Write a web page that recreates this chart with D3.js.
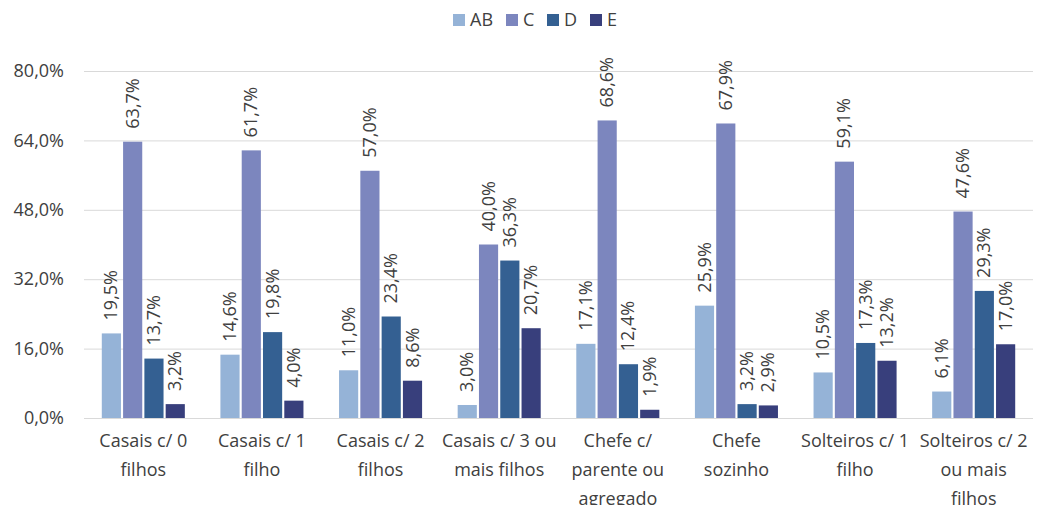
<!DOCTYPE html>
<html>
<head>
<meta charset="utf-8">
<script src="https://cdn.jsdelivr.net/npm/d3@7"></script>
<style>
  body { margin: 0; background: #fff; }
  text { font-family: "Open Sans", sans-serif; fill: #404040; }
</style>
</head>
<body>
<svg id="chart" width="1039" height="505"></svg>
<script>
// line breaks follow the reference's wrapping
const categories = [
  'Casais c/ 0\nfilhos',
  'Casais c/ 1\nfilho',
  'Casais c/ 2\nfilhos',
  'Casais c/ 3 ou\nmais filhos',
  'Chefe c/\nparente ou\nagregado',
  'Chefe\nsozinho',
  'Solteiros c/ 1\nfilho',
  'Solteiros c/ 2\nou mais\nfilhos'
];
const seriesNames = ['AB', 'C', 'D', 'E'];
const valuesAB = [19.5, 14.6, 11.0, 3.0, 17.1, 25.9, 10.5, 6.1];
const valuesC = [63.7, 61.7, 57.0, 40.0, 68.6, 67.9, 59.1, 47.6];
const valuesD = [13.7, 19.8, 23.4, 36.3, 12.4, 3.2, 17.3, 29.3];
const valuesE = [3.2, 4.0, 8.6, 20.7, 1.9, 2.9, 13.2, 17.0];
const yTicks = [0, 16, 32, 48, 64, 80];

const seriesValues = [valuesAB, valuesC, valuesD, valuesE];
const colors = ['#95b3d7', '#7c86be', '#346092', '#383f7c'];

const svg = d3.select('#chart');
const margin = { top: 71, right: 6, bottom: 87, left: 84 };
const width = 1039, height = 505;
const innerWidth = width - margin.left - margin.right;
const innerHeight = height - margin.top - margin.bottom;
const fontSize = '18px';

const fmt = (v) => v.toFixed(1).replace('.', ',') + '%';

const x0 = d3.scaleBand().domain(categories).range([0, innerWidth]).paddingInner(0.3).paddingOuter(0.15);
const x1 = d3.scaleBand().domain(seriesNames).range([0, x0.bandwidth()]).paddingInner(0.1);
const y = d3.scaleLinear().domain([0, 80]).range([innerHeight, 0]);

const g = svg.append('g').attr('transform', `translate(${margin.left},${margin.top})`);

// gridlines
g.selectAll('line.grid')
  .data(yTicks)
  .enter()
  .append('line')
  .attr('class', 'grid')
  .attr('x1', 0)
  .attr('x2', innerWidth)
  .attr('y1', (d) => y(d) + 0.5)
  .attr('y2', (d) => y(d) + 0.5)
  .attr('stroke', '#d9d9d9')
  .attr('stroke-width', 1);

// y axis labels
const yAxis = d3.axisLeft(y).tickValues(yTicks).tickFormat(fmt).tickSize(0).tickPadding(20);
const yG = g.append('g').call(yAxis);
yG.select('.domain').remove();
yG.selectAll('text')
  .style('font-size', fontSize)
  .style('font-family', '"Open Sans", sans-serif')
  .attr('fill', '#404040');

// bars
const groups = g.selectAll('g.cat')
  .data(categories)
  .enter()
  .append('g')
  .attr('class', 'cat')
  .attr('transform', (d) => `translate(${x0(d)},0)`);

seriesNames.forEach((s, si) => {
  groups.append('rect')
    .attr('x', x1(s))
    .attr('y', (d, i) => y(seriesValues[si][i]))
    .attr('width', x1.bandwidth())
    .attr('height', (d, i) => innerHeight - y(seriesValues[si][i]))
    .attr('fill', colors[si]);

  groups.append('text')
    .attr('transform', (d, i) => `translate(${x1(s) + x1.bandwidth() / 2 + 6},${y(seriesValues[si][i]) - 13}) rotate(-90)`)
    .attr('text-anchor', 'start')
    .style('font-size', fontSize)
    .text((d, i) => fmt(seriesValues[si][i]));
});

// baseline
g.append('line')
  .attr('x1', 0).attr('x2', innerWidth)
  .attr('y1', innerHeight + 0.5).attr('y2', innerHeight + 0.5)
  .attr('stroke', '#d9d9d9');

// category labels
g.selectAll('text.cat')
  .data(categories)
  .enter()
  .append('text')
  .attr('class', 'cat')
  .attr('transform', (d) => `translate(${x0(d) + x0.bandwidth() / 2},${innerHeight + 29})`)
  .attr('text-anchor', 'middle')
  .style('font-size', fontSize)
  .each(function (d) {
    d.split('\n').forEach((l, i) => {
      d3.select(this).append('tspan')
        .attr('x', 0)
        .attr('dy', i === 0 ? 0 : 29)
        .text(l);
    });
  });

// legend
const legend = svg.append('g').attr('transform', 'translate(453,14)');
const legendX = [0, 53, 94, 137];
seriesNames.forEach((s, i) => {
  legend.append('rect')
    .attr('x', legendX[i]).attr('y', 0)
    .attr('width', 12).attr('height', 12)
    .attr('fill', colors[i]);
  legend.append('text')
    .attr('x', legendX[i] + 17).attr('y', 12)
    .style('font-size', fontSize)
    .text(s);
});
</script>
</body>
</html>
